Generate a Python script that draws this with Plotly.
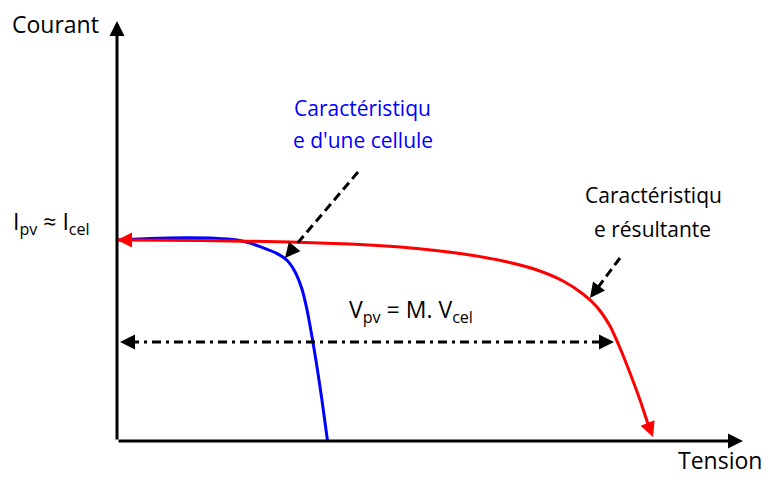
import plotly.graph_objects as go

# ---- Data (chart units: origin at the axes corner) ----
cell_v = [0, 33, 70, 98, 120, 133, 143, 159.7, 169.7, 178, 184.7, 189.7, 194.7, 199.7, 204.7, 210.4]
cell_i = [200, 201.5, 202.2, 201.8, 200, 197, 193.3, 186.7, 180, 168.3, 151.7, 131.7, 105, 75, 41.7, 0]

res_v = [0, 83, 173, 233, 283, 323, 353, 386, 420, 446, 466, 480, 493, 503, 513, 523, 531]
res_i = [200, 199.5, 198, 196, 193, 189, 185, 179, 170, 159, 146, 133, 114, 92, 67, 40, 16]
res_end = (536, 3)

vpv_level = 98
vpv_left = 3
vpv_right = 497

FONT = "Open Sans"
FS = 21
FS_BIG = 23
BLUE = "#0000FF"
RED = "#FF0000"

fig = go.Figure()

# cell characteristic
fig.add_trace(go.Scatter(x=cell_v, y=cell_i, mode="lines",
                         line=dict(color=BLUE, width=3, shape="spline", smoothing=0.6),
                         hoverinfo="skip"))
# resulting characteristic
fig.add_trace(go.Scatter(x=res_v, y=res_i, mode="lines",
                         line=dict(color=RED, width=3, shape="spline", smoothing=0.6),
                         hoverinfo="skip"))
# dash-dot double arrow
fig.add_trace(go.Scatter(x=[vpv_left + 10, vpv_right - 10], y=[vpv_level, vpv_level], mode="lines",
                         line=dict(color="black", width=3, dash="9px,5px,3px,5px"),
                         hoverinfo="skip"))
# dashed pointer lines
fig.add_trace(go.Scatter(x=[241, 177], y=[268, 192.7], mode="lines",
                         line=dict(color="black", width=3, dash="9px,5px"), hoverinfo="skip"))
fig.add_trace(go.Scatter(x=[503, 481.4], y=[182, 153.2], mode="lines",
                         line=dict(color="black", width=3, dash="9px,5px"), hoverinfo="skip"))

ann = []
# axes with arrows
ann.append(dict(x=0, y=419, ax=0, ay=-1, axref="x", ayref="y", showarrow=True,
                arrowhead=2, arrowwidth=3, arrowsize=1, arrowcolor="black", text=""))
ann.append(dict(x=626, y=-1, ax=0, ay=-1, axref="x", ayref="y", showarrow=True,
                arrowhead=2, arrowwidth=3, arrowsize=1, arrowcolor="black", text=""))


def head(x, y, ax, ay, color="black"):
    return dict(x=x, y=y, ax=ax, ay=ay, showarrow=True, arrowhead=2, arrowwidth=3,
                arrowsize=1, arrowcolor=color, text="")


ann.append(head(0, 200, 14, 0, RED))
ann.append(dict(x=res_end[0], y=res_end[1], ax=res_v[-1], ay=res_i[-1], axref="x", ayref="y",
                showarrow=True, arrowhead=2, arrowwidth=3, arrowsize=1, arrowcolor=RED, text=""))
ann.append(head(vpv_left, vpv_level, 14, 0))
ann.append(head(vpv_right, vpv_level, -14, 0))
ann.append(head(168, 182, 9, -10.7))
ann.append(head(473, 142, 8.4, -11.2))


def txt(x, y, t, color="black", size=FS, yanchor="middle"):
    return dict(x=x, y=y, text=t, showarrow=False, xanchor="center", yanchor=yanchor,
                font=dict(family=FONT, size=size, color=color))


ann.append(txt(-61.5, 416, "Courant", size=FS_BIG))
ann.append(txt(603, -38, "Tension", size=FS_BIG, yanchor="bottom"))
ann.append(txt(-66, 218, "I<sub>pv</sub> ≈ I<sub>cel</sub>", size=FS_BIG))
ann.append(txt(245, 332, "Caractéristiqu", BLUE))
ann.append(txt(246, 300, "e d'une cellule", BLUE))
ann.append(txt(536, 245, "Caractéristiqu"))
ann.append(txt(535, 211, "e résultante"))
ann.append(txt(294, 130, "V<sub>pv</sub> = M. V<sub>cel</sub>", size=FS_BIG))

fig.update_layout(
    width=766, height=479,
    margin=dict(l=0, r=0, t=0, b=0),
    paper_bgcolor="white", plot_bgcolor="white",
    showlegend=False,
    xaxis=dict(range=[-117, 649], visible=False, fixedrange=True),
    yaxis=dict(range=[-39, 440], visible=False, fixedrange=True),
    annotations=ann,
)

fig.write_html("out.html", config={"displayModeBar": False},
               post_script="document.body.style.margin='0';")
